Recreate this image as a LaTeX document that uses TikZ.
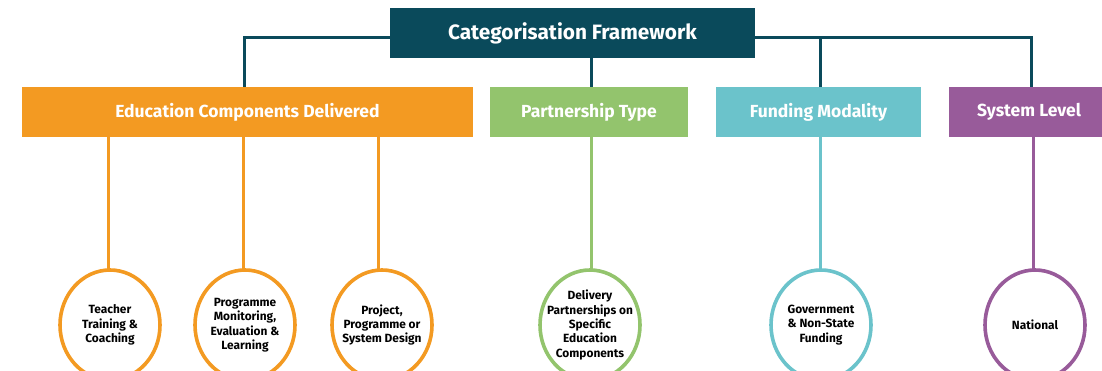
\documentclass[tikz,border=0pt]{standalone}
\usepackage{fontspec}
\setmainfont{Fira Sans}
\definecolor{teal}{HTML}{0A4A5B}
\definecolor{orng}{HTML}{F39A22}
\definecolor{grn}{HTML}{93C46D}
\definecolor{cyn}{HTML}{6BC3CB}
\definecolor{prp}{HTML}{985B9A}
\tikzset{
  catbox/.style={rectangle, fill=#1, text=white, inner sep=0pt,
    font=\fontsize{17.5}{20}\selectfont\bfseries},
  leaf/.style={ellipse, draw=#1, line width=3.6pt, fill=white,
    inner xsep=-9pt, inner ysep=0pt,
    minimum width=100, minimum height=110, align=center, text=black,
    font=\fontsize{11.9}{14.4}\selectfont\bfseries},
  link/.style={line width=3pt, draw=#1},
}
\usetikzlibrary{shapes.geometric}
\begin{document}
\begin{tikzpicture}[x=1pt,y=-1pt]
\useasboundingbox (0,0) rectangle (1102,371);
% category boxes
\node[catbox=orng, minimum width=451, minimum height=50] (edu) at (247.5,112) {Education Components Delivered};
\node[catbox=grn, minimum width=198, minimum height=50] (part) at (589,112) {Partnership Type};
\node[catbox=cyn, minimum width=205, minimum height=50] (fund) at (818.5,112) {Funding Modality};
\node[catbox=prp, minimum width=160, minimum height=50] (sys) at (1029,112) {System Level};
% joints of the top bar
\coordinate (jl) at (244,37.5);
\coordinate (jf) at (820,37.5);
\coordinate (jr) at (1031,37.5);
% top bar and drops to the categories
\draw[link=teal, line join=miter] (244,87) -- (jl) -- (jr) -- (1031,87);
\draw[link=teal] (jf) -- (820,87);
% framework title
\node[catbox=teal, minimum width=365, minimum height=50,
  font=\fontsize{20.8}{24}\selectfont\bfseries] (top) at (572.5,33) {Categorisation Framework};
\draw[link=teal] (591,58) -- (591,87);
% leaf ellipses
\node[leaf=orng] (t1) at (110,325) {Teacher\\Training \&\\Coaching};
\node[leaf=orng] (t2) at (245,325) {Programme\\Monitoring,\\Evaluation \&\\Learning};
\node[leaf=orng] (t3) at (382,325) {Project,\\Programme or\\System Design};
\node[leaf=grn] (p1) at (590,325) {Delivery\\Partnerships on\\Specific\\Education\\Components};
\node[leaf=cyn] (f1) at (821,325) {Government\\\& Non-State\\Funding};
\node[leaf=prp] (s1) at (1035,325) {National};
% drops to the leaves
\draw[link=orng] (108,137) -- (108,270);
\draw[link=orng] (243,137) -- (243,270);
\draw[link=orng] (378,137) -- (378,270);
\draw[link=grn] (591,137) -- (591,270);
\draw[link=cyn] (820,137) -- (820,270);
\draw[link=prp] (1033,137) -- (1033,270);
\end{tikzpicture}
\end{document}
